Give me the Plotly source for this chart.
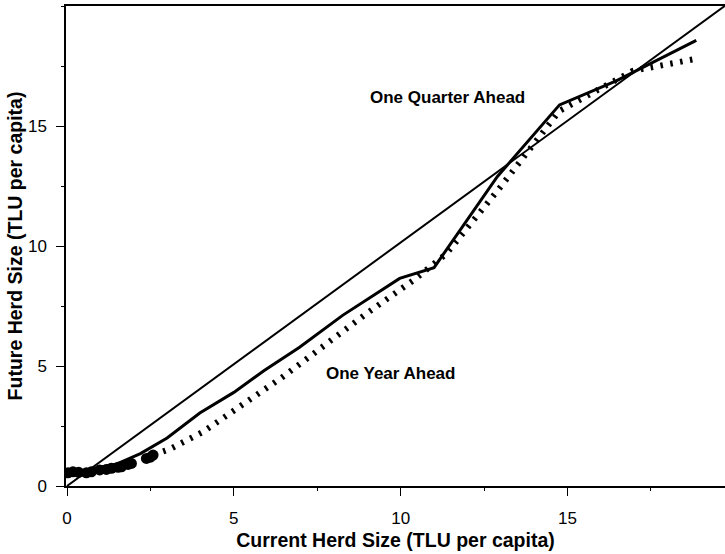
import plotly.graph_objects as go

# 45-degree reference line
ref_x = [0.0, 19.71]
ref_y = [0.0, 20.0]

# Observed herd sizes (markers near origin)
obs_x = [0.03, 0.18, 0.35, 0.58, 0.73, 0.98, 1.18, 1.33, 1.53, 1.63, 1.83, 1.93, 2.38, 2.5, 2.58]
obs_y = [0.55, 0.59, 0.57, 0.55, 0.59, 0.67, 0.69, 0.74, 0.78, 0.80, 0.90, 0.94, 1.15, 1.2, 1.29]

# One Quarter Ahead (solid)
q_x = [0.75, 1.5, 2.2, 3.0, 3.98, 5.0, 5.9, 6.97, 8.26, 9.97, 11.0, 12.9, 14.76, 16.46, 18.86]
q_y = [0.72, 0.92, 1.35, 2.0, 3.04, 3.9, 4.8, 5.78, 7.11, 8.65, 9.1, 12.9, 15.88, 16.88, 18.57]

# One Year Ahead (dotted)
a_x = [2.6, 3.1, 4.08, 5.08, 6.47, 8.97, 10.38, 11.37, 12.9, 14.76, 16.96, 18.86]
a_y = [1.3, 1.55, 2.26, 3.2, 4.55, 7.18, 8.57, 9.68, 12.3, 15.63, 17.3, 17.8]

tick_vals = [0, 5, 10, 15]
tick_text = ["0", "5", "10", "15"]

FONT = "Liberation Sans, Arial, sans-serif"

fig = go.Figure()
fig.add_trace(go.Scatter(x=ref_x, y=ref_y, mode="lines",
                         line=dict(color="black", width=2), showlegend=False))
fig.add_trace(go.Scatter(x=a_x, y=a_y, mode="lines",
                         line=dict(color="black", width=6, dash="2.5px,7.5px"), showlegend=False))
fig.add_trace(go.Scatter(x=q_x, y=q_y, mode="lines",
                         line=dict(color="black", width=3), showlegend=False))
fig.add_trace(go.Scatter(x=obs_x, y=obs_y, mode="markers",
                         marker=dict(color="black", size=11), showlegend=False))

fig.add_annotation(x=11.4, y=16.2, text="<b>One Quarter Ahead</b>", showarrow=False,
                   font=dict(family=FONT, size=17, color="black"))
fig.add_annotation(x=9.7, y=4.7, text="<b>One Year Ahead</b>", showarrow=False,
                   font=dict(family=FONT, size=17, color="black"))

axis_common = dict(
    showgrid=False, zeroline=False, showline=True, linecolor="black", linewidth=1.5,
    ticks="outside", ticklen=8, tickwidth=1, tickcolor="black",
    tickfont=dict(family=FONT, size=17, color="black"),
    minor=dict(ticks="outside", ticklen=3, tickwidth=1, tickcolor="black", dtick=2.5),
)

fig.update_xaxes(range=[-0.03, 19.72], tickvals=tick_vals, ticktext=tick_text,
                 mirror=True, ticklabelstandoff=8,
                 title=dict(text="<b>Current Herd Size (TLU per capita)</b>",
                            font=dict(family=FONT, size=19.5, color="black"), standoff=6),
                 **axis_common)
fig.update_yaxes(range=[0, 20], tickvals=tick_vals, ticktext=tick_text,
                 ticklabelstandoff=6,
                 title=dict(text="<b>Future Herd Size (TLU per capita)</b>",
                            font=dict(family=FONT, size=19.5, color="black"), standoff=0),
                 **axis_common)

fig.update_layout(width=725, height=554, margin=dict(l=66, r=0, t=6, b=68),
                  plot_bgcolor="white", paper_bgcolor="white")

fig.write_html("out.html", config={"displayModeBar": False},
               post_script="document.body.style.margin='0';")
